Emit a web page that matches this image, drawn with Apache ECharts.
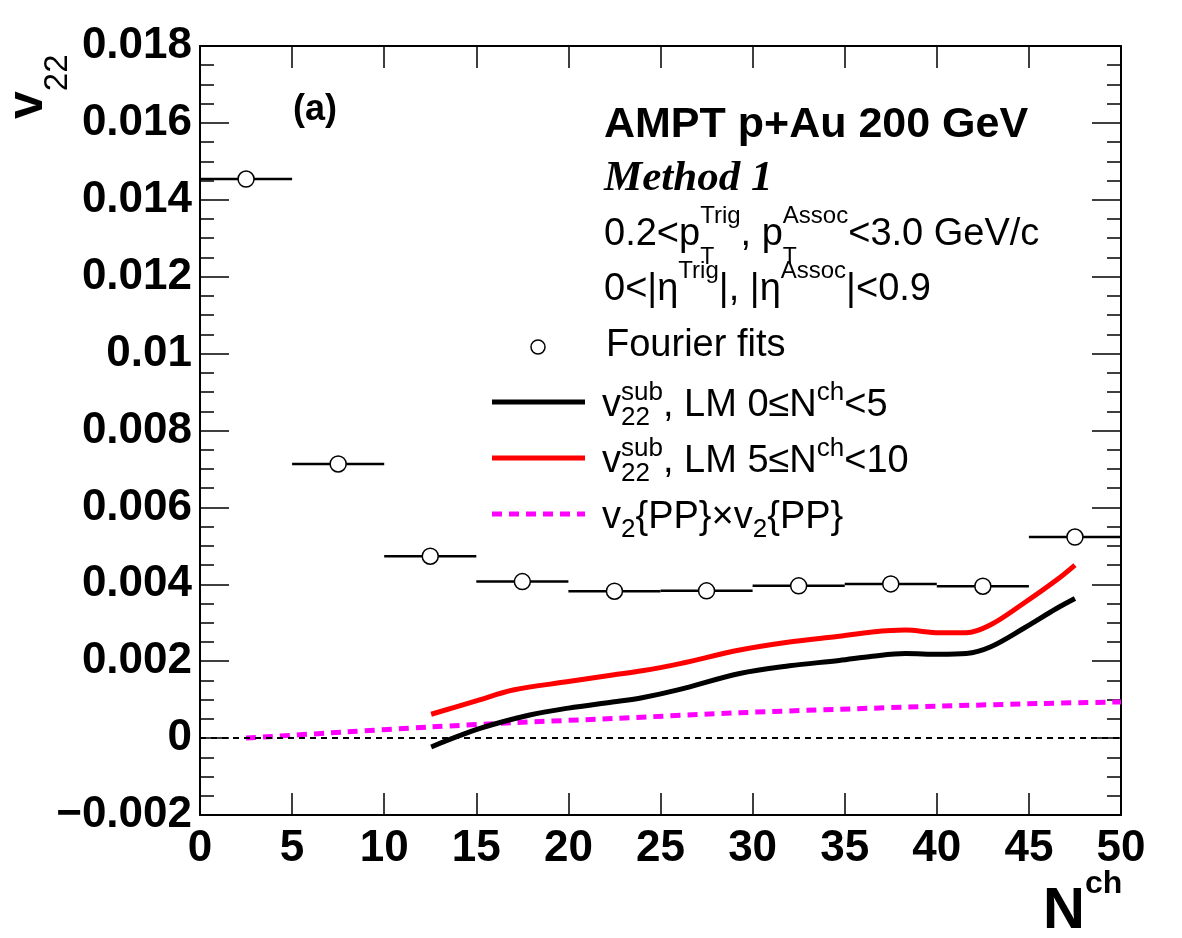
<!DOCTYPE html>
<html>
<head>
<meta charset="utf-8">
<script src="https://cdn.jsdelivr.net/npm/echarts@6/dist/echarts.min.js"></script>
<style>
  html, body { margin: 0; padding: 0; background: #fff; }
  #chart { width: 1182px; height: 938px; }
</style>
</head>
<body>
<div id="chart"></div>
<script>
// Fourier fit points (bin centres, half widths, values)
const fitX = [2.5, 7.5, 12.5, 17.5, 22.5, 27.5, 32.5, 37.5, 42.5, 47.5];
const fitXErr = [2.5, 2.5, 2.5, 2.5, 2.5, 2.5, 2.5, 2.5, 2.5, 2.5];
const fitY = [0.01454, 0.00713, 0.00473, 0.00407, 0.00382, 0.00383, 0.00396, 0.00401, 0.00395, 0.00523];
const fitYErr = [0.00003, 0.00003, 0.00003, 0.00003, 0.00003, 0.00003, 0.00003, 0.00003, 0.00003, 0.00013];

// v22 sub, LM 0<=Nch<5 (black)
const lm0X = [12.55, 15.2, 17.9, 20, 22.4, 24, 26, 29.3, 32, 34.7, 36.5, 38.3, 40.15, 41.6, 42.9, 44.7, 46.5, 47.5];
const lm0Y = [-0.00023, 0.00025, 0.00060, 0.00078, 0.00094, 0.00105, 0.00126, 0.00168, 0.00188, 0.00202, 0.00213, 0.00220, 0.00218, 0.00220, 0.00237, 0.00285, 0.00337, 0.00363];

// v22 sub, LM 5<=Nch<10 (red)
const lm5X = [12.55, 15, 17, 20, 22.4, 24, 26, 29.3, 32, 34.7, 36.5, 38.3, 40.15, 41.6, 42.9, 44.7, 46.5, 47.5];
const lm5Y = [0.00062, 0.00097, 0.00125, 0.00147, 0.00164, 0.00175, 0.00193, 0.00229, 0.00250, 0.00265, 0.00276, 0.00281, 0.00274, 0.00274, 0.00294, 0.00350, 0.00411, 0.00450];

// v2{PP} x v2{PP} (magenta dashed)
const ppX = [2.5, 7.9, 12.5, 17, 22.4, 29.3, 34.7, 40.1, 45.6, 50];
const ppY = [0.0, 0.00016, 0.00029, 0.00040, 0.00051, 0.00066, 0.00075, 0.00083, 0.00090, 0.00094];

const yTickLabels = ['\u22120.002', '0', '0.002', '0.004', '0.006', '0.008', '0.01', '0.012', '0.014', '0.016', '0.018'];
const xTickLabels = ['0', '5', '10', '15', '20', '25', '30', '35', '40', '45', '50'];

const SANS = '"Liberation Sans", Arial, Helvetica, sans-serif';
const SERIF = '"Liberation Serif", "Times New Roman", serif';

// text layout helpers for the ROOT-style labels with sub/superscripts
const ctx = document.createElement('canvas').getContext('2d');
function fontOf(p) {
  return (p.italic ? 'italic ' : '') + (p.bold ? 'bold ' : '') + p.size + 'px ' + (p.family || SANS);
}
function textEl(x, base, s, f, size) {
  return {
    type: 'text', x: x, y: base - 0.35 * size, z: 100,
    style: { text: s, font: f, fill: '#000', textAlign: 'left', textVerticalAlign: 'middle', align: 'left', verticalAlign: 'middle' }
  };
}
function row(x, base, pieces) {
  let cx = x, lastX = x;
  const out = [];
  pieces.forEach(p => {
    const f = fontOf(p);
    ctx.font = f;
    const w = ctx.measureText(p.s).width;
    const px = p.over ? lastX : cx;
    out.push(textEl(px, base + (p.dy || 0), p.s, f, p.size));
    if (p.over) {
      cx = Math.max(cx, px + w);
    } else {
      lastX = px;
      cx = px + w;
    }
  });
  return out;
}

const M = 38, S = 26;
let graphics = [];
graphics = graphics.concat(
  row(293, 123, [{ s: '(a)', size: 36, bold: true }]),
  row(604, 140, [{ s: 'AMPT p+Au 200 GeV', size: 43, bold: true }]),
  row(604, 194, [{ s: 'Method 1', size: 43, bold: true, italic: true, family: SERIF }]),
  row(604, 248, [
    { s: '0.2<p', size: M }, { s: 'T', size: 23, dy: 18 }, { s: 'Trig', size: 24, dy: -23, over: true },
    { s: ', p', size: M }, { s: 'T', size: 23, dy: 18 }, { s: 'Assoc', size: 24, dy: -23, over: true },
    { s: '<3.0 GeV/c', size: M }
  ]),
  row(604, 303, [
    { s: '0<|\u03b7', size: M }, { s: 'Trig', size: 24, dy: -23 },
    { s: '|, |\u03b7', size: M }, { s: 'Assoc', size: 24, dy: -23 }, { s: '|<0.9', size: M }
  ]),
  row(606, 359, [{ s: 'Fourier fits', size: M }]),
  row(602, 419, [
    { s: 'v', size: M }, { s: '22', size: S, dy: 8 }, { s: 'sub', size: S, dy: -17, over: true },
    { s: ', LM 0\u2264N', size: M }, { s: 'ch', size: S, dy: -17 }, { s: '<5', size: M }
  ]),
  row(602, 475, [
    { s: 'v', size: M }, { s: '22', size: S, dy: 8 }, { s: 'sub', size: S, dy: -17, over: true },
    { s: ', LM 5\u2264N', size: M }, { s: 'ch', size: S, dy: -17 }, { s: '<10', size: M }
  ]),
  row(602, 531, [
    { s: 'v', size: M }, { s: '2', size: S, dy: 8 }, { s: '{PP}\u00d7v', size: M },
    { s: '2', size: S, dy: 8 }, { s: '{PP}', size: M }
  ]),
  row(1043, 932, [{ s: 'N', size: 58, bold: true }, { s: 'ch', size: 32, bold: true, dy: -37 }])
);
// y axis title, rotated
graphics.push({
  type: 'group', x: 46, y: 119, rotation: Math.PI / 2,
  children: row(0, 0, [{ s: 'v', size: 50, bold: true }, { s: '22', size: 33, dy: 23 }])
});
// legend symbols
graphics.push(
  { type: 'circle', z: 100, shape: { cx: 538, cy: 347, r: 7 }, style: { fill: '#fff', stroke: '#000', lineWidth: 1.5 } },
  { type: 'line', z: 100, shape: { x1: 492, y1: 402, x2: 585, y2: 402 }, style: { stroke: '#000', lineWidth: 5 } },
  { type: 'line', z: 100, shape: { x1: 492, y1: 458, x2: 585, y2: 458 }, style: { stroke: '#ff0000', lineWidth: 5 } },
  { type: 'line', z: 100, shape: { x1: 492, y1: 514, x2: 585, y2: 514 }, style: { stroke: '#ff00ff', lineWidth: 5, lineDash: [10, 7] } }
);

const chart = echarts.init(document.getElementById('chart'));

const axisLineStyle = { color: '#000', width: 2 };
function xAxisCfg(pos, labels) {
  return {
    type: 'value', position: pos, min: 0, max: 50, interval: 5,
    axisLine: { show: true, onZero: false, lineStyle: axisLineStyle },
    axisTick: { show: true, inside: true, length: 22, lineStyle: { color: '#000', width: 1.5 } },
    axisLabel: {
      show: labels, margin: 12, color: '#000', fontFamily: SANS, fontWeight: 'bold', fontSize: 44,
      showMinLabel: true, showMaxLabel: true,
      formatter: v => xTickLabels[Math.round(v / 5)]
    },
    splitLine: { show: false }
  };
}
function yAxisCfg(pos, labels) {
  return {
    type: 'value', position: pos, min: -0.002, max: 0.018, interval: 0.002,
    axisLine: { show: true, onZero: false, lineStyle: axisLineStyle },
    axisTick: { show: true, inside: true, length: 29, lineStyle: { color: '#000', width: 1.5 } },
    minorTick: { show: true, splitNumber: 4, length: 14, lineStyle: { color: '#000', width: 1.5 } },
    axisLabel: {
      show: labels, margin: 8, color: '#000', fontFamily: SANS, fontWeight: 'bold', fontSize: 44,
      showMinLabel: true, showMaxLabel: true,
      formatter: v => yTickLabels[Math.round((v + 0.002) / 0.002)]
    },
    splitLine: { show: false }
  };
}

const option = {
  animation: false,
  backgroundColor: '#fff',
  grid: { left: 200, right: 61, top: 46, bottom: 123 },
  xAxis: [xAxisCfg('bottom', true), xAxisCfg('top', false)],
  yAxis: [yAxisCfg('left', true), yAxisCfg('right', false)],
  graphic: graphics,
  series: [
    {
      name: 'v2{PP}xv2{PP}', type: 'line', smooth: 0.3, showSymbol: false, z: 2,
      data: ppX.map((x, i) => [x, ppY[i]]),
      lineStyle: { color: '#ff00ff', width: 5, type: [10, 7] },
      markLine: {
        silent: true, symbol: 'none', label: { show: false },
        lineStyle: { color: '#000', width: 2, type: [6, 5] },
        data: [{ yAxis: 0 }]
      }
    },
    {
      name: 'LM 0-5', type: 'line', smooth: 0.35, showSymbol: false, z: 3,
      data: lm0X.map((x, i) => [x, lm0Y[i]]),
      lineStyle: { color: '#000', width: 5 }
    },
    {
      name: 'LM 5-10', type: 'line', smooth: 0.35, showSymbol: false, z: 3,
      data: lm5X.map((x, i) => [x, lm5Y[i]]),
      lineStyle: { color: '#ff0000', width: 5 }
    },
    {
      name: 'Fourier errors', type: 'custom', z: 4,
      data: fitX.map((x, i) => [x, fitY[i], fitXErr[i], fitYErr[i]]),
      encode: { x: 0, y: 1 },
      renderItem: function (params, api) {
        const x = api.value(0), y = api.value(1), ex = api.value(2), ey = api.value(3);
        const l = api.coord([x - ex, y]), r = api.coord([x + ex, y]);
        const t = api.coord([x, y + ey]), b = api.coord([x, y - ey]);
        return {
          type: 'group',
          children: [
            { type: 'line', shape: { x1: l[0], y1: l[1], x2: r[0], y2: r[1] }, style: { stroke: '#000', lineWidth: 2.5 } },
            { type: 'line', shape: { x1: t[0], y1: t[1], x2: b[0], y2: b[1] }, style: { stroke: '#000', lineWidth: 2.5 } }
          ]
        };
      }
    },
    {
      name: 'Fourier fits', type: 'scatter', z: 5,
      symbol: 'circle', symbolSize: 16,
      data: fitX.map((x, i) => [x, fitY[i]]),
      itemStyle: { color: '#fff', borderColor: '#000', borderWidth: 1.5, opacity: 1 }
    }
  ]
};

chart.setOption(option);
</script>
</body>
</html>
